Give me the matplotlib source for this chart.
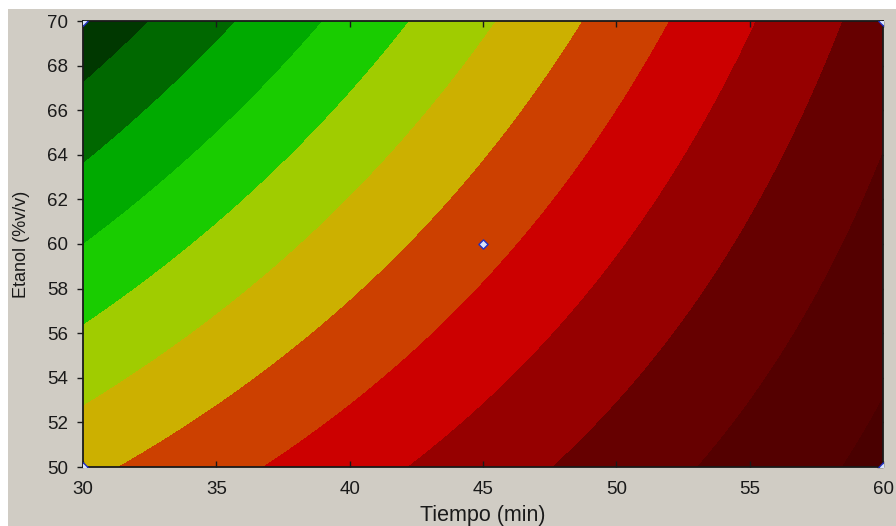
import matplotlib
matplotlib.use("Agg")
import matplotlib.pyplot as plt
import matplotlib.patches as mpatches
import numpy as np

# fitted response surface: z = b0 + b_t*t + b_e*e + b_te*t*e
b0, b_t, b_e, b_te = 22.27, -0.124, -0.461, 0.006167

tiempo_lim = [30, 60]
etanol_lim = [50, 70]
x_ticks = [30, 35, 40, 45, 50, 55, 60]
y_ticks = [50, 52, 54, 56, 58, 60, 62, 64, 66, 68, 70]

levels = [-1, 0, 1, 2, 3, 4, 5, 6, 7, 8, 9, 10, 11]
band_colors = ["#003800", "#006800", "#00aa00", "#19cc00", "#a0cc00", "#ccb000",
               "#cc4000", "#cc0000", "#960000", "#660000", "#540000", "#4a0000"]

# experimental design points
tiempo_pts = [30, 60, 30, 60, 45]
etanol_pts = [50, 50, 70, 70, 60]

_BG = "#d0ccc4"
_INK = "#1a1a1a"

plt.rcParams["font.family"] = ["Liberation Sans", "DejaVu Sans"]

fig = plt.figure(figsize=(8.96, 5.26), dpi=100, facecolor="white")
fig.patches.append(mpatches.Rectangle((8 / 896, 0), 1, 1 - 9 / 526, transform=fig.transFigure,
                                      facecolor=_BG, edgecolor="none", zorder=-10))
ax = fig.add_axes([83 / 896, 1 - 467 / 526, 800 / 896, 446 / 526])

t = np.linspace(tiempo_lim[0], tiempo_lim[1], 400)
e = np.linspace(etanol_lim[0], etanol_lim[1], 400)
T, E = np.meshgrid(t, e)
Z = b0 + b_t * T + b_e * E + b_te * T * E

ax.contourf(T, E, Z, levels=levels, colors=band_colors, antialiased=False)
ax.scatter(tiempo_pts, etanol_pts, marker="D", s=22, facecolor="#d8e4ff",
           edgecolor="#2030c0", linewidth=1.0, zorder=5, clip_on=True)

ax.set_xlim(tiempo_lim)
ax.set_ylim(etanol_lim)
ax.set_xticks(x_ticks)
ax.set_yticks(y_ticks)
ax.tick_params(axis="x", direction="in", top=True, length=4, width=1, pad=10,
               labelsize=13.5, colors=_INK)
ax.tick_params(axis="y", direction="out", right=False, length=4, width=1, pad=7,
               labelsize=13.5, colors=_INK)
sec = ax.secondary_yaxis("right")
sec.set_yticks(y_ticks)
sec.tick_params(direction="in", length=4, width=1, labelright=False, colors=_INK)
sec.spines["right"].set_visible(False)

for s in ax.spines.values():
    s.set_color(_INK)
    s.set_linewidth(1.3)

ax.set_xlabel("Tiempo (min)", fontsize=15.5, color=_INK, labelpad=5)
ax.set_ylabel("Etanol (%v/v)", fontsize=13, color=_INK, labelpad=12)

fig.savefig("out.png", dpi=100, facecolor=fig.get_facecolor())
